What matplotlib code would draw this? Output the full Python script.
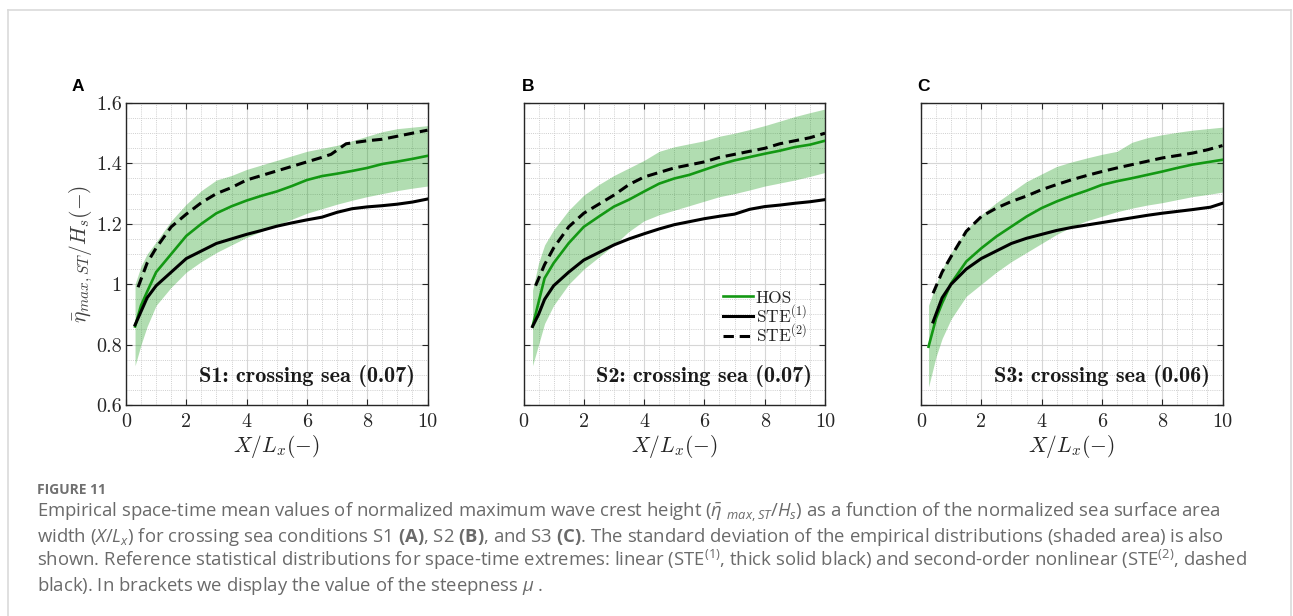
import matplotlib
matplotlib.use("Agg")
import matplotlib.pyplot as plt
from matplotlib.lines import Line2D

# ---------------------------------------------------------------- data
# Panel A (S1)
xa = [0.3, 0.5, 0.7, 1.0, 1.5, 2.0, 2.5, 3.0, 3.5, 4.0, 4.5, 5.0, 5.5, 6.0, 6.5, 7.0, 7.5, 8.0, 8.5, 9.0, 9.5, 10.0]
hos_a = [0.86, 0.93, 0.975, 1.04, 1.10, 1.16, 1.20, 1.235, 1.258, 1.277, 1.293, 1.307, 1.325, 1.345, 1.358, 1.366, 1.375, 1.385, 1.398, 1.406, 1.415, 1.425]
hi_a = [1.00, 1.06, 1.10, 1.14, 1.21, 1.265, 1.31, 1.345, 1.36, 1.38, 1.395, 1.41, 1.425, 1.44, 1.45, 1.46, 1.475, 1.49, 1.505, 1.515, 1.52, 1.525]
lo_a = [0.73, 0.80, 0.86, 0.93, 0.99, 1.04, 1.075, 1.105, 1.13, 1.155, 1.175, 1.195, 1.215, 1.235, 1.25, 1.265, 1.278, 1.29, 1.30, 1.31, 1.318, 1.325]
ste1_a = [0.865, 0.91, 0.955, 0.995, 1.04, 1.085, 1.11, 1.135, 1.15, 1.165, 1.178, 1.192, 1.203, 1.213, 1.222, 1.238, 1.25, 1.256, 1.26, 1.265, 1.272, 1.282]
x2_a = [0.4, 0.7, 1.0, 1.5, 2.0, 2.5, 3.0, 3.5, 4.0, 4.5, 5.0, 5.5, 6.0, 6.5, 6.8, 7.3, 8.0, 8.5, 9.0, 9.5, 10.0]
ste2_a = [0.99, 1.07, 1.12, 1.19, 1.232, 1.27, 1.30, 1.32, 1.345, 1.36, 1.375, 1.39, 1.405, 1.42, 1.43, 1.465, 1.475, 1.48, 1.49, 1.50, 1.51]

# Panel B (S2)
xb = [0.3, 0.5, 0.7, 1.0, 1.5, 2.0, 2.5, 3.0, 3.5, 4.0, 4.5, 5.0, 5.5, 6.0, 6.5, 7.0, 7.5, 8.0, 8.5, 9.0, 9.5, 10.0]
hos_b = [0.86, 0.94, 1.02, 1.07, 1.136, 1.19, 1.224, 1.257, 1.28, 1.307, 1.333, 1.35, 1.362, 1.379, 1.396, 1.41, 1.421, 1.432, 1.442, 1.454, 1.462, 1.475]
hi_b = [0.98, 1.07, 1.13, 1.18, 1.245, 1.295, 1.33, 1.36, 1.385, 1.41, 1.44, 1.455, 1.465, 1.475, 1.49, 1.50, 1.512, 1.525, 1.54, 1.555, 1.568, 1.58]
lo_b = [0.73, 0.80, 0.87, 0.93, 1.00, 1.05, 1.09, 1.13, 1.175, 1.21, 1.23, 1.245, 1.26, 1.275, 1.29, 1.30, 1.312, 1.325, 1.335, 1.345, 1.357, 1.37]
ste1_b = [0.86, 0.90, 0.95, 0.995, 1.04, 1.08, 1.105, 1.13, 1.15, 1.167, 1.183, 1.197, 1.207, 1.217, 1.225, 1.232, 1.248, 1.257, 1.262, 1.268, 1.273, 1.28]
x2_b = [0.4, 0.7, 1.0, 1.5, 2.0, 2.5, 3.0, 3.5, 4.0, 4.5, 5.0, 5.5, 6.0, 6.5, 7.0, 7.5, 8.0, 8.5, 9.0, 9.5, 10.0]
ste2_b = [0.995, 1.065, 1.12, 1.19, 1.235, 1.265, 1.295, 1.33, 1.355, 1.37, 1.385, 1.395, 1.405, 1.42, 1.43, 1.44, 1.45, 1.465, 1.475, 1.485, 1.50]

# Panel C (S3)
xc = [0.25, 0.5, 0.7, 1.0, 1.5, 2.0, 2.5, 3.0, 3.5, 4.0, 4.5, 5.0, 5.5, 6.0, 6.5, 7.0, 7.5, 8.0, 8.5, 9.0, 9.5, 10.0]
hos_c = [0.793, 0.887, 0.937, 1.003, 1.075, 1.119, 1.158, 1.191, 1.224, 1.252, 1.274, 1.293, 1.31, 1.329, 1.341, 1.351, 1.362, 1.373, 1.385, 1.396, 1.404, 1.412]
hi_c = [0.93, 1.00, 1.05, 1.105, 1.18, 1.23, 1.27, 1.305, 1.34, 1.365, 1.39, 1.405, 1.418, 1.43, 1.44, 1.47, 1.485, 1.495, 1.503, 1.51, 1.515, 1.52]
lo_c = [0.66, 0.76, 0.82, 0.885, 0.96, 1.00, 1.04, 1.075, 1.105, 1.135, 1.165, 1.19, 1.21, 1.225, 1.24, 1.252, 1.262, 1.27, 1.28, 1.29, 1.297, 1.305]
x1_c = [0.4, 0.7, 1.0, 1.5, 2.0, 2.5, 3.0, 3.5, 4.0, 4.5, 5.0, 5.5, 6.0, 6.5, 7.0, 7.5, 8.0, 8.5, 9.0, 9.6, 10.0]
ste1_c = [0.875, 0.955, 1.0, 1.05, 1.085, 1.11, 1.135, 1.152, 1.165, 1.178, 1.188, 1.196, 1.204, 1.212, 1.22, 1.228, 1.235, 1.241, 1.247, 1.255, 1.268]
x2_c = [0.4, 0.7, 1.0, 1.5, 2.0, 2.5, 3.0, 3.5, 4.0, 4.5, 5.0, 5.5, 6.0, 6.5, 7.0, 7.5, 8.0, 8.5, 9.0, 9.5, 10.0]
ste2_c = [0.97, 1.04, 1.092, 1.175, 1.224, 1.252, 1.274, 1.292, 1.313, 1.33, 1.346, 1.36, 1.373, 1.385, 1.396, 1.407, 1.418, 1.426, 1.434, 1.445, 1.459]

panel_letters = ["A", "B", "C"]
panel_titles = ["S1: crossing sea (0.07)", "S2: crossing sea (0.07)", "S3: crossing sea (0.06)"]
xtick_vals = [0, 2, 4, 6, 8, 10]
xtick_labels = ["0", "2", "4", "6", "8", "10"]
ytick_vals = [0.6, 0.8, 1.0, 1.2, 1.4, 1.6]
ytick_labels = ["0.6", "0.8", "1", "1.2", "1.4", "1.6"]
legend_labels = ["HOS", r"STE$^{(1)}$", r"STE$^{(2)}$"]

caption_head = "FIGURE 11"
caption_lines = [
    r"Empirical space-time mean values of normalized maximum wave crest height ($\bar{\eta}$ $_{max,ST}$/$H_s$) as a function of the normalized sea surface area",
    r"width ($X$/$L_x$) for crossing sea conditions S1 $\mathbf{(A)}$, S2 $\mathbf{(B)}$, and S3 $\mathbf{(C)}$. The standard deviation of the empirical distributions (shaded area) is also",
    r"shown. Reference statistical distributions for space-time extremes: linear (STE$^{(1)}$, thick solid black) and second-order nonlinear (STE$^{(2)}$, dashed",
    r"black). In brackets we display the value of the steepness $\mu$ .",
]

# ---------------------------------------------------------------- style
plt.rcParams["mathtext.fontset"] = "cm"
plt.rcParams["mathtext.rm"] = "Open Sans"
plt.rcParams["mathtext.it"] = "Open Sans:italic"
plt.rcParams["mathtext.bf"] = "Open Sans:bold"
plt.rcParams["axes.unicode_minus"] = False

GREEN = "#139813"
INK = "#262626"

W, H = 1293, 616
fig = plt.figure(figsize=(W / 100, H / 100), dpi=100)


def add_axes_px(left, top, right, bottom):
    return fig.add_axes([left / W, 1 - bottom / H, (right - left) / W, (bottom - top) / H])


panels = [
    (126, xa, hos_a, hi_a, lo_a, xa, ste1_a, x2_a, ste2_a),
    (523.5, xb, hos_b, hi_b, lo_b, xb, ste1_b, x2_b, ste2_b),
    (921, xc, hos_c, hi_c, lo_c, x1_c, ste1_c, x2_c, ste2_c),
]
letter_x = [72, 522, 917]

for i, (left, x, hos, hi, lo, x1, s1, x2, s2) in enumerate(panels):
    ax = add_axes_px(left, 103, left + 301.5, 405)
    ax.fill_between(x, lo, hi, color=GREEN, alpha=0.33, lw=0, zorder=1)
    ax.plot(x, hos, color=GREEN, lw=1.9, zorder=3, label=legend_labels[0])
    ax.plot(x1, s1, color="black", lw=2.2, zorder=4, label=legend_labels[1])
    ax.plot(x2, s2, color="black", lw=2.2, dashes=(3.4, 1.9), zorder=5, label=legend_labels[2])

    ax.set_xlim(0, 10)
    ax.set_ylim(0.6, 1.6)
    ax.set_xticks(xtick_vals)
    ax.set_xticklabels(xtick_labels)
    ax.set_yticks(ytick_vals)
    ax.set_yticklabels(ytick_labels if i == 0 else [])
    ax.set_xticks([v / 2 for v in range(0, 21)], minor=True)
    ax.set_yticks([0.6 + k * 0.05 for k in range(21)], minor=True)

    ax.grid(which="major", color="#d6d6d6", lw=0.8, ls="-", zorder=0)
    ax.grid(which="minor", color="#cfcfcf", lw=0.7, ls=(0, (1, 1.2)), zorder=0)
    ax.set_axisbelow(True)

    ax.tick_params(which="major", direction="in", length=4, width=0.8, color=INK,
                   top=True, right=True, labelsize=14.5, labelcolor=INK)
    ax.tick_params(axis="x", pad=6)
    ax.tick_params(axis="y", pad=3)
    ax.tick_params(which="minor", length=0, top=True, right=True)
    for lab in ax.get_xticklabels() + ax.get_yticklabels():
        lab.set_fontfamily("cmr10")
    for sp in ax.spines.values():
        sp.set_color(INK)
        sp.set_linewidth(1.0)

    ax.set_xlabel(r"$X/L_x(-)$", fontsize=15.5, color=INK, va="center")
    ax.xaxis.set_label_coords(0.5, -0.136)
    if i == 0:
        ax.set_ylabel(r"$\bar{\eta}_{max,ST}/H_s(-)$", fontsize=15.5, color="#404040", va="center")
        ax.yaxis.set_label_coords(-0.149, 0.5)

    ax.text(0.957, 0.097, panel_titles[i], transform=ax.transAxes, ha="right", va="center",
            fontsize=16, fontfamily="cmb10", color="#1a1a1a", zorder=6)

    if i == 1:
        leg = ax.legend(loc="center", bbox_to_anchor=(0.80, 0.29), frameon=False,
                        prop={"family": "cmr10", "size": 12.5}, handlelength=1.75,
                        handletextpad=0.15, labelspacing=-0.12, borderpad=0.2)
        for t in leg.get_texts():
            t.set_color(INK)

    fig.text(letter_x[i] / W, 1 - 91 / H, panel_letters[i], fontsize=12.5, fontweight="bold",
             fontfamily="Liberation Sans", color="black", va="baseline", ha="left")

# ---------------------------------------------------------------- frame and caption
frame = dict(color="#dadada", lw=1.2, transform=fig.transFigure, clip_on=False)
fig.add_artist(Line2D([7.5 / W, 7.5 / W], [0, 1 - 10 / H], **frame))
fig.add_artist(Line2D([7.5 / W, 1290.5 / W], [1 - 10 / H, 1 - 10 / H], **frame))
fig.add_artist(Line2D([1290.5 / W, 1290.5 / W], [0, 1 - 10 / H], **frame))

fig.text(37 / W, 1 - 494 / H, caption_head, fontsize=10, fontweight="bold",
         fontfamily="Open Sans", color="#707070", va="baseline", ha="left")
for k, line in enumerate(caption_lines):
    t = fig.text(37 / W, 1 - (517 + 24.7 * k) / H, line, fontsize=13.3, fontfamily="Open Sans",
                 color="#6a6a6a", va="baseline", ha="left")
    t.set_math_fontfamily("custom")

fig.savefig("out.png", dpi=100)
